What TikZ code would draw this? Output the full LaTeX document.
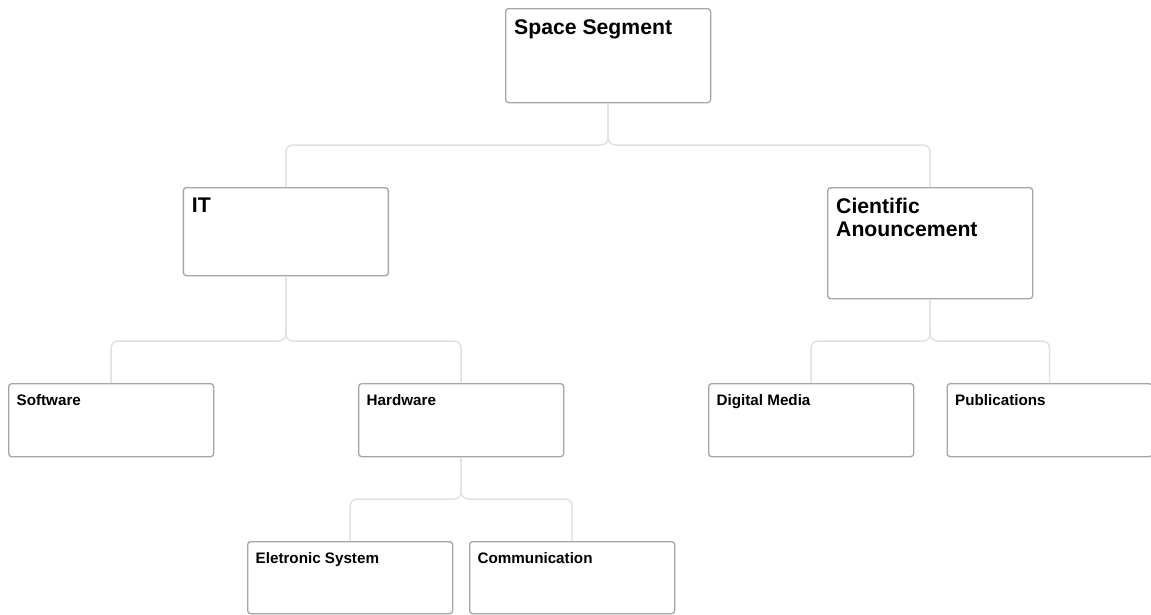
\documentclass[tikz,border=0pt]{standalone}
\usepackage{fontspec}
\setmainfont{Liberation Sans}
\definecolor{boxline}{RGB}{165,165,165}
\definecolor{connline}{RGB}{225,225,225}
\begin{document}
\begin{tikzpicture}[x=1pt,y=-1pt,
  box/.style={draw=boxline,line width=1.3pt,rounded corners=3pt,fill=white,
    inner sep=0pt,minimum width=205pt,anchor=north west},
  bigtxt/.style={anchor=north west,inner sep=0pt,align=left,
    font=\bfseries\fontsize{21.2}{23}\selectfont},
  smalltxt/.style={anchor=north west,inner sep=0pt,align=left,
    font=\bfseries\fontsize{15.2}{18}\selectfont},
  conn/.style={draw=connline,line width=1.5pt,rounded corners=7pt}]
\useasboundingbox (0,0) rectangle (1151,614);
% boxes
\node[box,minimum height=94pt] (ss) at (505,8) {};
\node[box,minimum height=88pt] (it) at (182.7,187) {};
\node[box,minimum height=111pt] (ca) at (827,187) {};
\node[box,minimum height=73pt] (sw) at (8,383) {};
\node[box,minimum height=73pt] (hw) at (358,383) {};
\node[box,minimum height=73pt] (dm) at (708,383) {};
\node[box,minimum height=73pt] (pb) at (946.5,383) {};
\node[box,minimum height=72pt] (es) at (247,541) {};
\node[box,minimum height=72pt] (cm) at (469,541) {};
% junctions
\coordinate (j1) at (ss.south |- 0,145);
\coordinate (j2) at (it.south |- 0,341);
\coordinate (j3) at (ca.south |- 0,341);
\coordinate (j4) at (hw.south |- 0,499);
% connectors
\draw[conn] (ss.south) -- (j1) -| (it.north);
\draw[conn] (ss.south) -- (j1) -| (ca.north);
\draw[conn] (it.south) -- (j2) -| (sw.north);
\draw[conn] (it.south) -- (j2) -| (hw.north);
\draw[conn] (ca.south) -- (j3) -| (dm.north);
\draw[conn] (ca.south) -- (j3) -| (pb.north);
\draw[conn] (hw.south) -- (j4) -| (es.north);
\draw[conn] (hw.south) -- (j4) -| (cm.north);
% texts
\node[bigtxt] (ss-t) at ([shift={(9,11)}]ss.north west) {Space Segment};
\node[bigtxt] (it-t) at ([shift={(9,11)}]it.north west) {IT};
\node[bigtxt] (ca-t) at ([shift={(9,11)}]ca.north west) {Cientific\\Anouncement};
\node[smalltxt] (sw-t) at ([shift={(8.5,11)}]sw.north west) {Software};
\node[smalltxt] (hw-t) at ([shift={(8.5,11)}]hw.north west) {Hardware};
\node[smalltxt] (dm-t) at ([shift={(8.5,11)}]dm.north west) {Digital Media};
\node[smalltxt] (pb-t) at ([shift={(8.5,11)}]pb.north west) {Publications};
\node[smalltxt] (es-t) at ([shift={(8.5,11)}]es.north west) {Eletronic System};
\node[smalltxt] (cm-t) at ([shift={(8.5,11)}]cm.north west) {Communication};
\end{tikzpicture}
\end{document}
